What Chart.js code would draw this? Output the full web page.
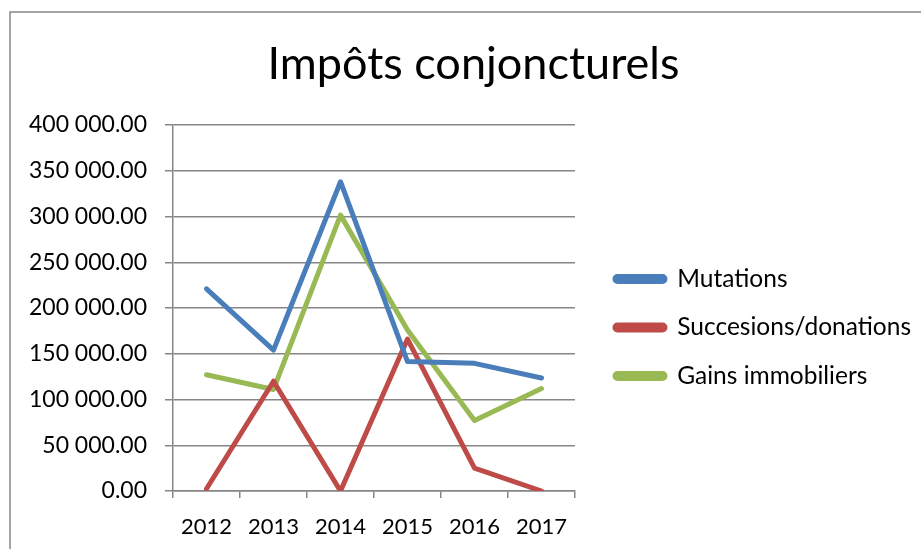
<!DOCTYPE html>
<html>
<head>
<meta charset="utf-8">
<script src="https://cdn.jsdelivr.net/npm/chart.js@4.4.0/dist/chart.umd.min.js"></script>
<style>
  html, body { margin: 0; padding: 0; background: #ffffff; }
  #wrap { width: 921px; height: 549px; position: relative; }
</style>
</head>
<body>
<div id="wrap"><canvas id="c" width="921" height="549"></canvas></div>
<script>
const categories = ['2012', '2013', '2014', '2015', '2016', '2017'];
const seriesNames = ['Mutations', 'Succesions/donations', 'Gains immobiliers'];
const mutations = [221000, 154000, 338000, 141500, 139500, 123500];
const successions = [2500, 120000, 0, 166000, 25000, 0];
const gains = [127000, 111000, 301500, 176000, 77000, 112000];
const yTicks = [0, 50000, 100000, 150000, 200000, 250000, 300000, 350000, 400000];
const titleText = 'Impôts conjoncturels';

const FONT = 'Lato, "Open Sans", sans-serif';
const LEG_SIZE = 24.5, LEG_PAD = 24, LEG_BOX = 50;
const PLOT_RIGHT = 575, PLOT_LEFT = 173, PAD_LEFT = 26;

function fmt(v) {
  const parts = Number(v).toFixed(2).split('.');
  parts[0] = parts[0].replace(/\B(?=(\d{3})+(?!\d))/g, ' ');
  return parts.join('.');
}

// measure widest legend label to size the right-hand area
const mctx = document.createElement('canvas').getContext('2d');
mctx.font = LEG_SIZE + 'px ' + FONT;
const tw = Math.max(...seriesNames.map(s => mctx.measureText(s).width));
const LEG_MAXW = 331.5;
const legendW = Math.min(LEG_MAXW, LEG_PAD + LEG_BOX + LEG_SIZE / 2 + tw + 10);
const SPACER = 921 - PLOT_RIGHT - legendW;

const framePlugin = {
  id: 'frame',
  beforeDraw(chart) {
    const ctx = chart.ctx;
    ctx.save();
    ctx.fillStyle = '#ffffff';
    ctx.fillRect(0, 0, chart.width, chart.height);
    ctx.strokeStyle = '#868686';
    ctx.lineWidth = 1.5;
    ctx.strokeRect(10, 12, chart.width + 20, chart.height + 20);
    ctx.restore();
  }
};

const chart = new Chart(document.getElementById('c'), {
  type: 'line',
  data: {
    labels: categories,
    datasets: [
      { label: seriesNames[0], data: mutations, borderColor: '#4A7EBB', backgroundColor: '#4A7EBB' },
      { label: seriesNames[1], data: successions, borderColor: '#BE4B48', backgroundColor: '#BE4B48' },
      { label: seriesNames[2], data: gains, borderColor: '#98B954', backgroundColor: '#98B954' }
    ].map(d => Object.assign(d, {
      borderWidth: 5, pointRadius: 0, pointHoverRadius: 0, tension: 0, fill: false,
      borderCapStyle: 'round', borderJoinStyle: 'round'
    }))
  },
  options: {
    responsive: false,
    animation: false,
    devicePixelRatio: 1,
    layout: { padding: { left: PAD_LEFT, right: 0, top: 0, bottom: 0 } },
    plugins: {
      title: {
        display: true,
        text: titleText,
        color: '#000000',
        font: { family: FONT, size: 45, weight: 'normal' },
        padding: { top: 37, bottom: 34 }
      },
      legend: {
        position: 'right',
        align: 'center',
        fullSize: false,
        maxWidth: LEG_MAXW,
        title: { display: true, text: ' ', font: { size: 10 }, padding: { top: 27, bottom: 0 } },
        labels: {
          color: '#000000',
          font: { family: FONT, size: LEG_SIZE },
          boxWidth: LEG_BOX,
          boxHeight: 5,
          useBorderRadius: true,
          borderRadius: 2.5,
          padding: LEG_PAD
        }
      },
      tooltip: { enabled: false }
    },
    scales: {
      x: {
        type: 'category',
        offset: true,
        grid: { display: true, drawOnChartArea: false, drawTicks: true, tickLength: 7, offset: true, color: '#868686', lineWidth: 1.5 },
        border: { display: true, color: '#868686', width: 1.5 },
        ticks: { color: '#000000', font: { family: FONT, size: 22 }, padding: 16, maxRotation: 0, autoSkip: false },
        afterFit(scale) { scale.height = 58; }
      },
      y: {
        min: 0, max: 400000,
        afterBuildTicks(scale) { scale.ticks = yTicks.map(v => ({ value: v })); },
        grid: { color: '#868686', lineWidth: 1.5, tickLength: 8 },
        border: { display: true, color: '#868686', width: 1.5 },
        ticks: { color: '#000000', font: { family: FONT, size: 23 }, padding: 18, callback: v => fmt(v) },
        afterFit(scale) { scale.width = PLOT_LEFT - PAD_LEFT; }
      },
      spacer: {
        type: 'linear',
        position: 'right',
        display: true,
        grid: { display: false, drawTicks: false },
        border: { display: false },
        ticks: { display: false },
        afterFit(scale) { scale.width = SPACER; }
      }
    }
  },
  plugins: [framePlugin]
});
</script>
</body>
</html>
